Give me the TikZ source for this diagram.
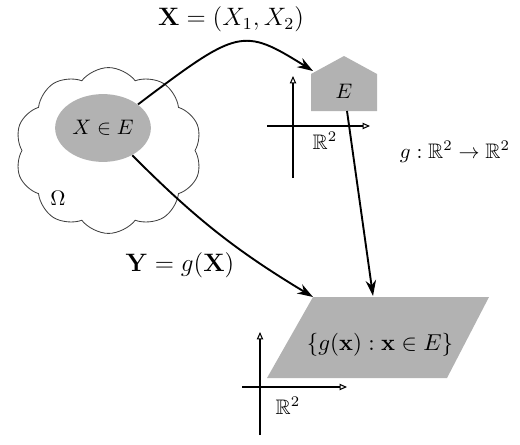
\documentclass[tikz,border=0pt]{standalone}
\usepackage{amsmath,amssymb}
\usetikzlibrary{
		calc,
		positioning,
		arrows.meta,
		shapes.geometric,
		shapes.symbols
	}
\tikzset{
		>={Stealth[length=7.5pt,width=5pt]},
		map/.style={->, line width=0.9pt},
		axis/.style={-{Triangle[open,length=3.5pt,width=3pt]}, line width=0.5pt}
	}
\newcommand{\ldraw}{black!75}
\newcommand{\lfill}{gray!60}

\begin{document}
\begin{tikzpicture}[scale=0.837]
		\useasboundingbox (0,0) rectangle (10.4,8.88);
		% sample space
		\node[cloud, cloud puffs=10, cloud puff arc=105, cloud ignores aspect, draw=\ldraw, line width=0.4pt, minimum width=89pt, minimum height=79pt] (omega) at (2.17,5.87) {};
		\node[ellipse, fill=\lfill, minimum width=45.6pt, minimum height=32.3pt, inner sep=0pt] (ell) at (2.06,6.32) {$X \in E$};
		\node (om) at (1.16,4.92) {$\Omega$};
		% the set E
		\coordinate (Ebl) at (6.22,6.66);
		\coordinate (Enw) at (6.22,7.40);
		\coordinate (Etop) at (6.88,7.76);
		\coordinate (Ene) at (7.54,7.40);
		\coordinate (Ebr) at (7.54,6.66);
		\fill[\lfill] (Ebl) -- (Enw) -- (Etop) -- (Ene) -- (Ebr) -- cycle;
		\node (E) at (6.88,7.06) {$E$};
		\coordinate (Etip) at (6.26,7.46);
		\coordinate (Es) at (6.94,6.66);
		\draw[axis] (5.34,6.36) -- (7.40,6.36);
		\draw[axis] (5.86,5.32) -- (5.86,7.36);
		\node (R1) at (6.50,6.06) {$\mathbb{R}^2$};
		% the image g(E)
		\coordinate (Pbl) at (5.34,1.32);
		\coordinate (Pbr) at (8.94,1.32);
		\coordinate (Pne) at (9.78,2.94);
		\coordinate (Pnw) at (6.26,2.94);
		\fill[\lfill] (Pbl) -- (Pbr) -- (Pne) -- (Pnw) -- cycle;
		\node (gE) at (7.60,1.98) {\fontsize{11}{13}\selectfont $\{g(\mathbf{x}) : \mathbf{x} \in E\}$};
		\coordinate (Pt) at (7.46,2.96);
		\draw[axis] (4.84,1.14) -- (6.94,1.14);
		\draw[axis] (5.20,0.18) -- (5.20,2.24);
		\node (R2) at (5.76,0.76) {$\mathbb{R}^2$};
		% maps
		\draw[map] (ell.34) to[out=37, in=148, out looseness=1.8, in looseness=1.2] (Etip);
		\draw[map] (ell.-43) to[bend right=7] (Pnw);
		\draw[map] (Es) -- (Pt);
		\node (lX) at (4.62,8.50) {\large $\mathbf{X} = (X_1, X_2)$};
		\node (lY) at (3.60,3.58) {\large $\mathbf{Y} = g(\mathbf{X})$};
		\node (lg) at (9.10,5.84) {$g : \mathbb{R}^2 \to \mathbb{R}^2$};
	\end{tikzpicture}
\end{document}
